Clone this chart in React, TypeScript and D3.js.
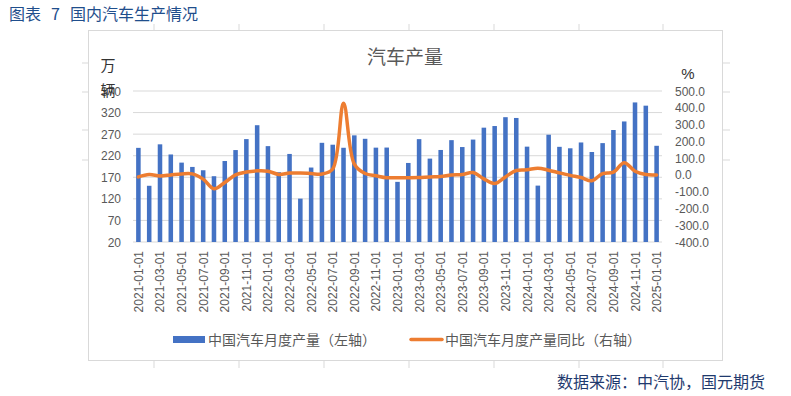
import React from "react";
import * as d3 from "d3";

const months: string[] = [];
for (let y = 2021; y <= 2025; y++) {
  for (let m = 1; m <= 12; m++) {
    if (y === 2025 && m > 1) break;
    months.push(`${y}-${String(m).padStart(2, "0")}-01`);
  }
}

const production = [
  238.2, 150.3, 246.4, 222.9, 204.0, 194.0, 186.3, 172.5, 207.7, 233.1, 258.5, 290.7,
  242.2, 181.8, 224.1, 120.5, 192.6, 249.9, 245.5, 238.4, 267.2, 259.2, 238.7, 238.9,
  159.4, 203.2, 258.4, 213.3, 233.3, 256.1, 240.1, 257.4, 285.0, 288.8, 309.3, 307.5,
  241.0, 150.7, 268.7, 240.6, 237.2, 250.7, 228.6, 249.2, 279.6, 299.4, 343.5, 336.0,
  243.0,
];

const yoy = [
  -12, 2, -6, 0, 6, 6, -25, -83, -45, 0, 17, 24,
  22, 3, 11, 11, 8, 5, 35, 427, 64, 8, -5, -17,
  -17, -17, -16, -12, -10, 0, 2, 14, -24, -52, -12, 26,
  30, 40, 28, 12, -3, -16, -35, 8, 16, 73, 22, 2,
  0,
];

const leftTicks = [20, 70, 120, 170, 220, 270, 320, 370];
const rightTicks = [500, 400, 300, 200, 100, 0, -100, -200, -300, -400];

const FONT = "'Liberation Sans', Arial, sans-serif";
const CJK = "'Noto Sans CJK SC', 'Noto Sans', sans-serif";

export default function App() {
  const W = 791;
  const H = 396;
  const x = d3
    .scaleBand<number>()
    .domain(months.map((_, i) => i))
    .range([133, 662])
    .paddingInner(0.58)
    .paddingOuter(0.29);
  const yL = d3.scaleLinear().domain([20, 370]).range([242, 91]);
  const yR = d3.scaleLinear().domain([-400, 500]).range([242, 91]);
  const cx = (i: number) => (x(i) as number) + x.bandwidth() / 2;

  const line = d3
    .line<number>()
    .x((_, i) => cx(i))
    .y((d) => yR(d))
    .curve(d3.curveCatmullRom.alpha(0.5));

  const tableTicksX = [154, 239, 324, 409, 494, 579, 663];

  return (
    <div style={{ position: "absolute", left: 0, top: 0 }}>
      <svg width={W} height={H} style={{ display: "block", background: "#fff" }}>
        <g fontFamily={CJK} fontSize={16} fill="#1F4E8C">
          <text x={9} y={20}>图表</text>
          <text x={51} y={20}>7</text>
          <text x={70} y={20}>国内汽车生产情况</text>
        </g>

        {/* table grid remnants */}
        {tableTicksX.map((tx) => (
          <line key={"tt" + tx} x1={tx} x2={tx} y1={24} y2={30} stroke="#d9d9d9" />
        ))}
        {tableTicksX.map((tx) => (
          <line key={"tb" + tx} x1={tx} x2={tx} y1={361} y2={368} stroke="#d9d9d9" />
        ))}
        {[63, 92, 130, 160].map((ty) => (
          <g key={"ts" + ty}>
            <line x1={82} x2={88} y1={ty} y2={ty} stroke="#d9d9d9" />
            <line x1={723} x2={730} y1={ty} y2={ty} stroke="#d9d9d9" />
          </g>
        ))}

        <rect x={88.5} y={30.5} width={634} height={330} fill="#fff" stroke="#d9d9d9" />

        <text x={405} y={64} textAnchor="middle" fontFamily={CJK} fontSize={19} fill="#595959">
          汽车产量
        </text>

        {leftTicks.map((t) => (
          <line key={"g" + t} x1={133} x2={662} y1={yL(t)} y2={yL(t)} stroke="#d9d9d9" strokeWidth={1} />
        ))}

        {leftTicks.map((t) => (
          <text key={"l" + t} x={121} y={yL(t) + 4.5} textAnchor="end" fontFamily={FONT} fontSize={12} fill="#595959">
            {t}
          </text>
        ))}
        {rightTicks.map((t) => (
          <text key={"r" + t} x={675} y={yR(t) + 4.5} textAnchor="start" fontFamily={FONT} fontSize={12} fill="#595959">
            {t.toFixed(1)}
          </text>
        ))}

        <text x={108} y={71} textAnchor="middle" fontFamily={CJK} fontSize={15} fill="#333">
          万
        </text>
        <text x={108} y={96} textAnchor="middle" fontFamily={CJK} fontSize={15} fill="#333">
          辆
        </text>
        <text x={688} y={79} textAnchor="middle" fontFamily={FONT} fontSize={15} fill="#333">
          %
        </text>

        {production.map((v, i) => (
          <rect
            key={"b" + i}
            x={x(i)}
            y={yL(v)}
            width={x.bandwidth()}
            height={yL(20) - yL(v)}
            fill="#4472C4"
          />
        ))}

        <path d={line(yoy) || ""} fill="none" stroke="#ED7D31" strokeWidth={3.5} strokeLinejoin="round" strokeLinecap="round" />

        {months.map((m, i) =>
          i % 2 === 0 ? (
            <text
              key={"x" + i}
              transform={`translate(${cx(i) + 4.5},${251}) rotate(-90)`}
              textAnchor="end"
              fontFamily={FONT}
              fontSize={12}
              fill="#595959"
            >
              {m}
            </text>
          ) : null
        )}

        <rect x={173} y={336} width={32} height={7} fill="#4472C4" />
        <text x={208} y={344.5} fontFamily={CJK} fontSize={14} fill="#595959">
          中国汽车月度产量（左轴）
        </text>
        <line x1={411} x2={442} y1={339.5} y2={339.5} stroke="#ED7D31" strokeWidth={3.5} strokeLinecap="round" />
        <text x={445} y={344.5} fontFamily={CJK} fontSize={14} fill="#595959">
          中国汽车月度产量同比（右轴）
        </text>

        <text x={557} y={388} fontFamily={CJK} fontSize={16} fill="#1F3A6E">
          数据来源：中汽协，国元期货
        </text>
      </svg>
    </div>
  );
}
